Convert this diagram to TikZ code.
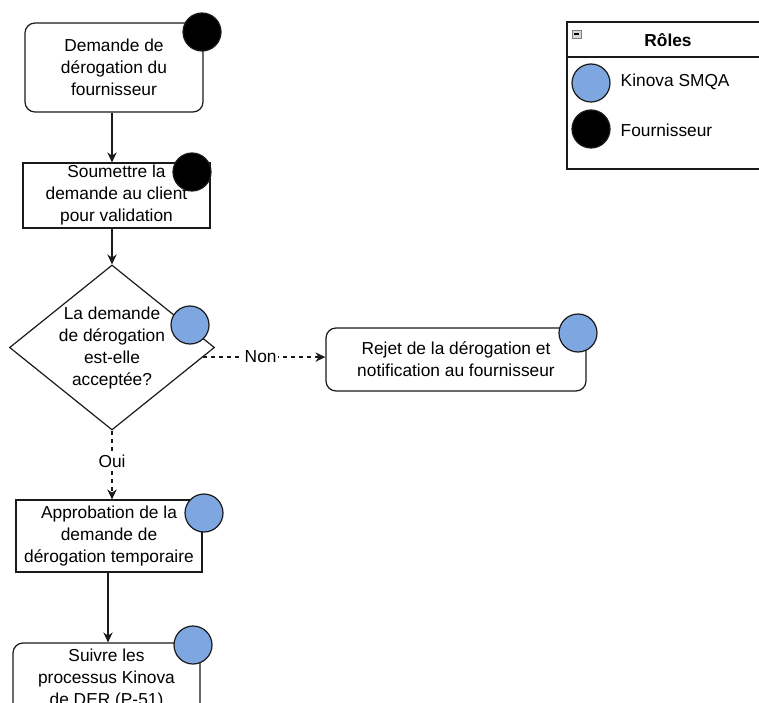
\documentclass[tikz,border=0pt]{standalone}
\usepackage{fontspec}
\setmainfont{Liberation Sans}
\usetikzlibrary{arrows.meta,shapes.geometric}
\definecolor{smqa}{HTML}{7EA6E0}
\definecolor{edge}{HTML}{1A1A1A}
\begin{document}
\begin{tikzpicture}[x=0.75pt,y=-0.75pt,
  every node/.style={font=\fontsize{13}{16.5}\selectfont,align=center},
  stepbox/.style={draw=edge,line width=0.9pt,fill=white,inner sep=0pt},
  roundbox/.style={stepbox,rounded corners=7.5pt},
  decision/.style={draw=edge,line width=0.9pt,fill=white,diamond,inner sep=0pt},
  roledot/.style={circle,draw=edge,line width=0.9pt,minimum size=28.5pt,inner sep=0pt},
  flow/.style={draw=edge,line width=0.9pt,-{Stealth[length=7.5pt,width=7pt]}},
  flowdash/.style={flow,dashed},
  tag/.style={fill=white,inner sep=1pt}]
  \useasboundingbox (0,0) rectangle (759,702);
  \clip (0,13) rectangle (759,702);
  \node[roundbox,minimum width=133.5pt,minimum height=66.75pt] (dem) at (114,67.5) {Demande de\\dérogation du\\fournisseur};
  \node[stepbox,minimum width=140.25pt,minimum height=48.75pt] (soum) at (116.5,195.5) {Soumettre la\\demande au client\\pour validation};
  \node[decision,minimum width=153.75pt,minimum height=123.75pt] (dia) at (112,347.5) {};
  \node (diatxt) at (112,348) {La demande\\de dérogation\\est-elle\\acceptée?};
  \node[roundbox,minimum width=195pt,minimum height=47.25pt] (rej) at (456,359.5) {Rejet de la dérogation et\\notification au fournisseur};
  \node[stepbox,minimum width=139.5pt,minimum height=54pt] (appr) at (109,536) {Approbation de la\\demande de\\dérogation temporaire};
  \node[roundbox,minimum width=140.25pt,minimum height=54pt] (suiv) at (106.5,679) {Suivre les\\processus Kinova\\de DER (P-51)};
  \node[roledot,fill=black] (r1) at (202,32) {};
  \node[roledot,fill=black] (r2) at (192,172) {};
  \node[roledot,fill=smqa] (r3) at (190,325) {};
  \node[roledot,fill=smqa] (r4) at (578,333) {};
  \node[roledot,fill=smqa] (r5) at (204,513) {};
  \node[roledot,fill=smqa] (r6) at (193,645) {};
  \draw[flow] (dem.south -| dia.north) -- (soum.north -| dia.north);
  \draw[flow] (soum.south -| dia.north) -- (dia.north);
  \draw[flowdash] (dia.-6.6) -- (rej.west |- dia.-6.6) node[tag,pos=0.47] (non) {Non};
  \draw[flowdash] (dia.south) -- (dia.south |- appr.north) node[tag,pos=0.45] (oui) {Oui};
  \draw[flow] (appr.south -| 108,0) -- (suiv.north -| 108,0);
  \draw[draw=edge,line width=0.9pt,fill=white] (567,22) rectangle (775,169);
  \draw[draw=edge,line width=0.9pt] (567,57) -- (775,57);
  \draw[draw=gray,fill=gray!30,line width=0.5pt] (572,30) rectangle (581,38);
  \draw[line width=1pt] (574,34) -- (579,34);
  \node[font=\fontsize{13}{16.5}\selectfont\bfseries] (roles) at (668,40) {Rôles};
  \node[roledot,fill=smqa] (legsmqa) at (591,83) {};
  \node[roledot,fill=black] (legfour) at (591,129) {};
  \node[anchor=west] (lsmqa) at (616,82) {Kinova SMQA};
  \node[anchor=west] (lfour) at (616,130) {Fournisseur};
\end{tikzpicture}
\end{document}
